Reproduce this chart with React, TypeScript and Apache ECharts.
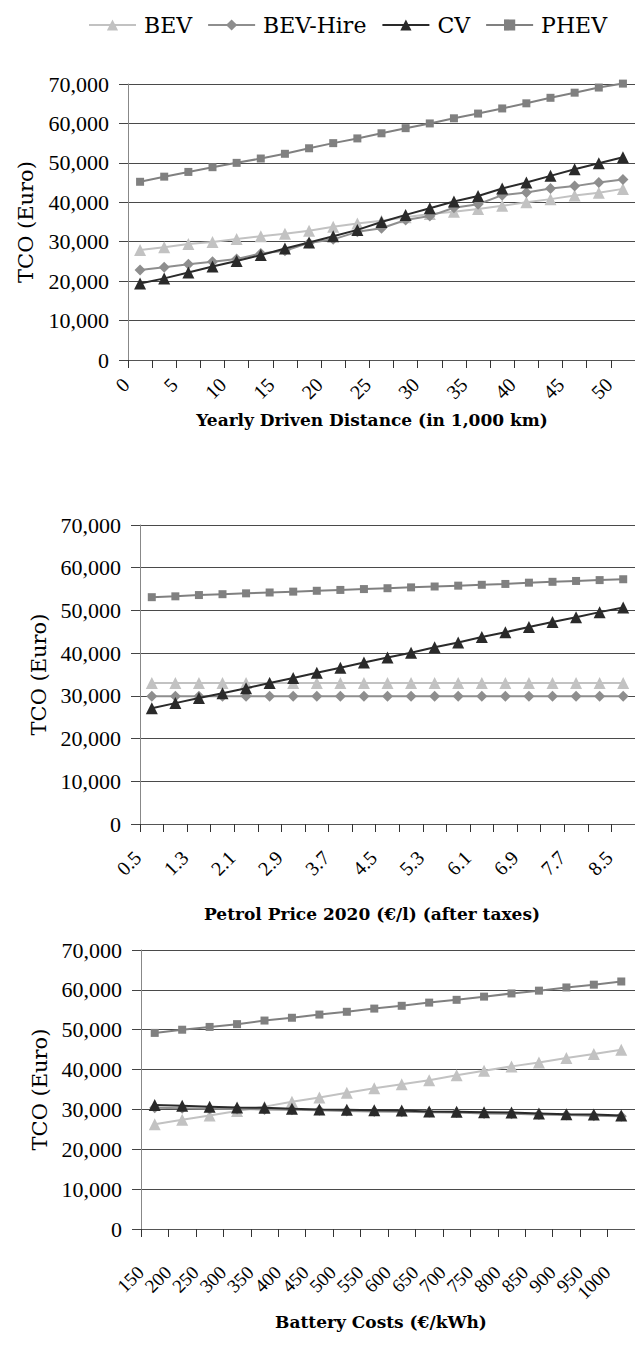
import React, { useEffect, useRef } from "react";
import * as echarts from "echarts";

const seriesNames = ["BEV", "BEV-Hire", "CV", "PHEV"];

const distanceCats = ["0", "2.5", "5", "7.5", "10", "12.5", "15", "17.5", "20", "22.5", "25", "27.5", "30", "32.5", "35", "37.5", "40", "42.5", "45", "47.5", "50"];
const distBEV = [27900, 28600, 29400, 29900, 30700, 31400, 32000, 32800, 33800, 34600, 35300, 36200, 37000, 37600, 38300, 39100, 40000, 40800, 41700, 42400, 43400];
const distBEVHire = [22800, 23500, 24300, 24900, 25600, 27000, 27700, 29700, 30600, 32500, 33400, 35500, 36500, 38600, 39500, 41800, 42500, 43500, 44100, 45000, 45800];
const distCV = [19400, 20700, 22200, 23700, 25100, 26600, 28300, 29800, 31400, 33000, 35000, 36800, 38500, 40200, 41600, 43500, 45000, 46700, 48400, 49900, 51400];
const distPHEV = [45200, 46500, 47700, 48900, 50000, 51100, 52300, 53700, 55000, 56200, 57500, 58800, 60000, 61300, 62500, 63800, 65100, 66500, 67800, 69100, 70100];

const petrolCats = ["0.5", "0.9", "1.3", "1.7", "2.1", "2.5", "2.9", "3.3", "3.7", "4.1", "4.5", "4.9", "5.3", "5.7", "6.1", "6.5", "6.9", "7.3", "7.7", "8.1", "8.5"];
const petrolBEV = [33000, 33000, 33000, 33000, 33000, 33000, 33000, 33000, 33000, 33000, 33000, 33000, 33000, 33000, 33000, 33000, 33000, 33000, 33000, 33000, 33000];
const petrolBEVHire = [29900, 29900, 29900, 29900, 29900, 29900, 29900, 29900, 29900, 29900, 29900, 29900, 29900, 29900, 29900, 29900, 29900, 29900, 29900, 29900, 29900];
const petrolCV = [27100, 28300, 29500, 30600, 31800, 33000, 34200, 35400, 36600, 37800, 39000, 40100, 41400, 42500, 43800, 44900, 46100, 47300, 48400, 49600, 50700];
const petrolPHEV = [53100, 53300, 53600, 53800, 54000, 54200, 54400, 54600, 54800, 55000, 55200, 55400, 55600, 55800, 56000, 56200, 56500, 56700, 56900, 57100, 57300];

const batteryCats = ["150", "200", "250", "300", "350", "400", "450", "500", "550", "600", "650", "700", "750", "800", "850", "900", "950", "1000"];
const batteryBEV = [26300, 27400, 28500, 29600, 30700, 31900, 33000, 34200, 35300, 36300, 37300, 38600, 39700, 40800, 41800, 42900, 43900, 45000];
const batteryBEVHire = [30400, 30300, 30200, 30100, 30000, 29900, 29800, 29600, 29500, 29400, 29300, 29200, 29000, 28900, 28700, 28600, 28400, 28300];
const batteryCV = [31100, 30900, 30700, 30500, 30400, 30200, 30000, 29900, 29800, 29700, 29500, 29400, 29300, 29200, 29000, 28800, 28700, 28500];
const batteryPHEV = [49200, 50000, 50700, 51400, 52300, 53000, 53800, 54500, 55300, 56000, 56800, 57500, 58300, 59100, 59800, 60600, 61300, 62100];

const xTitles = ["Yearly Driven Distance (in 1,000 km)", "Petrol Price 2020 (€/l) (after taxes)", "Battery Costs (€/kWh)"];
const yTitle = "TCO (Euro)";

const NUM_FONT = "Liberation Serif";
const WORD_FONT = "DejaVu Serif";

export default function App() {
  const ref = useRef<HTMLDivElement>(null);

  useEffect(() => {
    document.body.style.margin = "0";
    if (!ref.current) return;
    const chart = echarts.init(ref.current, undefined, { renderer: "svg" });

    const grids = [
      { left: 128, top: 84, width: 510, height: 276 },
      { left: 140, top: 525, width: 502, height: 299 },
      { left: 141, top: 950, width: 497, height: 279 },
    ];
    const cats = [distanceCats, petrolCats, batteryCats];
    const labelCfg = [
      { interval: 1, fontSize: 20, margin: 7, pad: 20 },
      { interval: 1, fontSize: 20, margin: 16, pad: 20 },
      { interval: 0, fontSize: 19, margin: 26, pad: 20 },
    ];
    const yNameGap = [92, 91, 88];

    const styles = [
      { color: "#c2c2c2", symbol: "triangle", size: 12 },
      { color: "#8e8e8e", symbol: "diamond", size: 11 },
      { color: "#2a2a2a", symbol: "triangle", size: 12 },
      { color: "#808080", symbol: "rect", size: 8 },
    ];
    const data = [
      [distBEV, distBEVHire, distCV, distPHEV],
      [petrolBEV, petrolBEVHire, petrolCV, petrolPHEV],
      [batteryBEV, batteryBEVHire, batteryCV, batteryPHEV],
    ];

    const series: any[] = [];
    data.forEach((group, gi) => {
      group.forEach((vals, si) => {
        const s = styles[si];
        series.push({
          name: seriesNames[si],
          type: "line",
          xAxisIndex: gi,
          yAxisIndex: gi,
          data: vals,
          symbol: s.symbol,
          symbolSize: s.size,
          clip: false,
          lineStyle: { color: s.color, width: 2 },
          itemStyle: { color: s.color },
          z: 2 + si,
        });
      });
    });

    const option: any = {
      animation: false,
      textStyle: { fontFamily: NUM_FONT },
      legend: {
        data: seriesNames,
        top: 9,
        left: 83,
        itemWidth: 47,
        itemHeight: 14,
        itemGap: 15,
        textStyle: { fontSize: 22, fontFamily: WORD_FONT, color: "#000", padding: [0, 0, 0, 3] },
      },
      grid: grids,
      xAxis: grids.map((_, i) => ({
        type: "category",
        gridIndex: i,
        data: cats[i],
        boundaryGap: true,
        axisLine: { show: true, lineStyle: { color: "#555", width: 1 } },
        axisTick: { show: true, interval: 0, length: 8, lineStyle: { color: "#333" } },
        axisLabel: {
          interval: labelCfg[i].interval,
          rotate: 45,
          margin: labelCfg[i].margin,
          padding: [0, labelCfg[i].pad, 0, 0],
          fontSize: labelCfg[i].fontSize,
          fontFamily: NUM_FONT,
          color: "#000",
        },
        splitLine: { show: false },
      })),
      yAxis: grids.map((_, i) => ({
        type: "value",
        gridIndex: i,
        min: 0,
        max: 70000,
        interval: 10000,
        axisLine: { show: true, lineStyle: { color: "#888", width: 1 } },
        axisTick: { show: true, length: 9, lineStyle: { color: "#444" } },
        axisLabel: {
          margin: 19,
          fontSize: 22,
          fontFamily: NUM_FONT,
          color: "#000",
          formatter: (v: number) => v.toLocaleString("en-US"),
        },
        splitLine: { show: true, lineStyle: { color: "#4a4a4a", width: 1 } },
        name: yTitle,
        nameLocation: "middle",
        nameGap: yNameGap[i],
        nameTextStyle: { fontSize: 21, fontFamily: WORD_FONT, color: "#000" },
      })),
      graphic: [
        { x: 372, y: 420 },
        { x: 372, y: 914 },
        { x: 381, y: 1322 },
      ].map((p, i) => ({
        type: "text",
        x: p.x,
        y: p.y,
        style: {
          text: xTitles[i],
          fontSize: 17,
          fontWeight: "bold",
          fontFamily: WORD_FONT,
          fill: "#000",
          align: "center",
          verticalAlign: "middle",
          textAlign: "center",
          textVerticalAlign: "middle",
        },
      })),
      series,
    };

    chart.setOption(option);
    return () => chart.dispose();
  }, []);

  return (
    <div
      ref={ref}
      style={{ position: "absolute", left: 0, top: 0, width: 635, height: 1354 }}
    />
  );
}
